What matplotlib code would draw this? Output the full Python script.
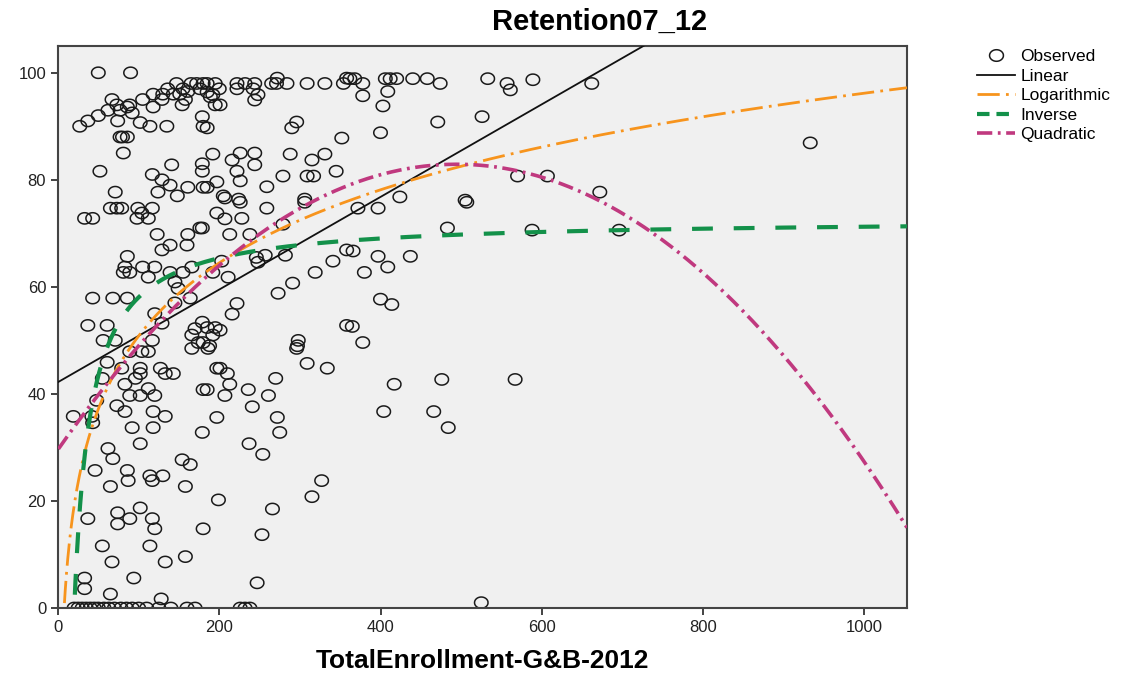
import numpy as np
import matplotlib
matplotlib.use('Agg')
import matplotlib.pyplot as plt
from matplotlib.lines import Line2D

# observed points (enrollment, retention)
enroll = [
    50, 90, 147, 172, 136, 143, 151, 161, 158, 176, 67, 73, 86, 89, 62, 50, 37, 27, 77, 92,
    74, 102, 114, 135, 105, 118, 118, 129, 154, 179, 180, 77, 80, 86, 81, 52, 141, 179, 179, 117,
    129, 139, 161, 180, 124, 148, 71,
    180, 195, 222, 232, 244, 265, 271, 284, 309, 331, 354, 272, 358, 185, 192, 189, 195, 201, 248, 244,
    222, 242, 185, 296, 290, 352, 192, 226, 244, 216, 244, 288, 315, 331, 222, 279, 309, 317, 345,
    197, 185, 226, 259, 205, 224, 306,
    362, 368, 406, 412, 420, 440, 458, 533, 378, 474, 378, 409, 403, 471, 526, 400, 424, 505,
    65, 73, 79, 99, 104, 117, 33, 43, 98, 112, 123, 139, 129, 160, 161, 176, 86, 83, 81, 89,
    105, 120, 112, 139, 155, 166, 145, 149, 43, 68, 86, 145, 164, 120, 129, 37, 61, 56, 71, 117,
    166, 170, 174, 179,
    207, 226, 197, 207, 228, 259, 306, 179, 213, 238, 279, 203, 246, 248, 257, 282, 192, 211, 358, 341,
    319, 291, 273, 222, 216, 185, 195, 201, 192, 180, 188, 298, 297, 358,
    372, 397, 507, 483, 366, 397, 437, 409, 380, 400, 414, 365, 378,
    89, 104, 112, 166, 61, 79, 102, 102, 127, 133, 143, 96, 55, 83, 112, 89, 102, 120, 180, 48,
    73, 83, 19, 42, 43, 118, 133, 92, 118, 179, 102, 62, 68, 154, 164, 46, 86, 87, 114, 117,
    130, 65, 158,
    186, 296, 197, 201, 210, 213, 185, 207, 236, 261, 270, 309, 334, 241, 197, 272, 275, 237, 254, 327,
    315, 199,
    417, 476, 404, 466, 484, 525,
    37, 74, 74, 89, 102, 117, 120, 55, 114, 67, 133, 158, 33, 33, 94, 65, 128, 180,
    20, 25, 30, 35, 40, 45, 50, 57, 63, 70, 78, 85, 92, 100, 110, 125, 140, 160, 170,
    266, 253, 247, 226, 232, 238,
    557, 561, 589, 662, 933, 570, 607, 672, 588, 696, 567,
    165, 185, 155, 130, 200,
]
retention = [
    100, 100, 98, 98, 97, 96, 96, 96.5, 95, 97, 95, 94, 93.6, 94, 93, 92, 91, 90, 93, 92.5,
    91, 90.7, 90, 90, 95, 96, 93.6, 95, 94, 91.8, 90, 88, 88, 88, 85, 81.6, 82.8, 83, 81.6, 81,
    80, 79, 78.6, 78.6, 77.7, 77, 77.7,
    98, 98, 98, 98, 98, 98, 98, 98, 98, 98, 98, 99, 99, 96.4, 95.9, 95.5, 94, 94, 95.9, 94.9,
    97, 97, 89.7, 90.8, 89.7, 87.8, 84.8, 85, 85, 83.7, 82.8, 84.8, 83.7, 84.8, 81.6, 80.7, 80.7, 80.7, 81.6,
    79.6, 78.6, 79.8, 78.7, 77, 76.4, 76.4,
    98.9, 98.9, 98.9, 98.9, 98.9, 98.9, 98.9, 98.9, 98, 98, 95.7, 96.5, 93.8, 90.8, 91.8, 88.8, 76.8, 76.2,
    74.7, 74.7, 74.7, 74.7, 73.8, 74.7, 72.8, 72.8, 72.8, 72.8, 69.8, 67.8, 66.9, 67.8, 69.8, 71, 65.7, 63.7, 62.7, 62.7,
    63.7, 63.7, 61.8, 62.7, 62.7, 63.7, 60.9, 59.7, 57.9, 57.9, 57.9, 57, 57.9, 55, 53.2, 52.8, 52.8, 50, 50, 50,
    51, 52.2, 49.6, 53.4,
    76.6, 75.8, 73.8, 72.7, 72.8, 74.7, 75.8, 71, 69.8, 69.8, 71.7, 64.8, 65.5, 64.6, 65.9, 65.9, 62.7, 61.8, 66.9, 64.8,
    62.7, 60.7, 58.8, 56.9, 54.9, 52.4, 52.4, 51.9, 51, 49.6, 49, 50, 49, 52.8,
    74.7, 74.7, 75.8, 71, 66.7, 65.7, 65.7, 63.7, 62.7, 57.7, 56.7, 52.6, 49.6,
    47.9, 47.9, 47.9, 48.5, 45.9, 44.8, 44.8, 43.8, 44.8, 43.8, 43.8, 42.9, 42.9, 41.8, 41, 39.7, 39.7, 39.7, 40.8, 38.8,
    37.8, 36.7, 35.8, 35.8, 34.6, 36.7, 35.8, 33.7, 33.7, 32.8, 30.7, 29.8, 27.9, 27.7, 26.8, 25.7, 25.7, 23.8, 24.7, 23.8,
    24.7, 22.7, 22.7,
    48.5, 48.5, 44.8, 44.8, 43.8, 41.8, 40.8, 39.7, 40.8, 39.7, 42.9, 45.7, 44.8, 37.6, 35.6, 35.6, 32.8, 30.7, 28.7, 23.8,
    20.8, 20.2,
    41.8, 42.7, 36.7, 36.7, 33.7, 1,
    16.7, 17.8, 15.7, 16.7, 18.7, 16.7, 14.8, 11.6, 11.6, 8.6, 8.6, 9.6, 5.6, 3.6, 5.6, 2.6, 1.7, 14.8,
    0, 0, 0, 0, 0, 0, 0, 0, 0, 0, 0, 0, 0, 0, 0, 0, 0, 0, 0,
    18.5, 13.7, 4.7, 0, 0, 0,
    98, 96.8, 98.7, 98, 86.9, 80.7, 80.7, 77.7, 70.6, 70.6, 42.7,
    98, 98, 97, 96, 97,
]

# fitted model coefficients
lin_coef = [42.2, 0.0865]              # b0 + b1*x
log_coef = [-39.9, 19.7]               # b0 + b1*ln(x)
inv_coef = [72.7, -1465.0]             # b0 + b1/x
quad_coef = [29.6, 0.2155, -0.0002178]  # b0 + b1*x + b2*x^2

x_max = 1053
y_max = 105

plt.rcParams['font.family'] = ['Liberation Sans', 'DejaVu Sans']
plt.rcParams['lines.scale_dashes'] = False

# slightly wide open ellipse, like the stretched circles of the original
t = np.linspace(0, 2 * np.pi, 41)
ellipse = np.column_stack([0.6 * np.cos(t), 0.5 * np.sin(t)])

fig = plt.figure(figsize=(11.27, 6.77), dpi=100)
ax = fig.add_axes([58 / 1127, 69 / 677, 849 / 1127, 562 / 677])
ax.set_facecolor('#f0f0f0')

ax.scatter(enroll, retention, s=95, marker=ellipse, facecolors='none', edgecolors='#1a1a1a',
           linewidths=1.1, zorder=2)

xs = np.linspace(0.5, x_max, 2000)
y_lin = lin_coef[0] + lin_coef[1] * xs
y_log = log_coef[0] + log_coef[1] * np.log(xs)
y_inv = inv_coef[0] + inv_coef[1] / xs
y_quad = quad_coef[0] + quad_coef[1] * xs + quad_coef[2] * xs ** 2

c_log = '#f7941d'
c_inv = '#13914a'
c_quad = '#c0397f'

ax.plot(xs, y_lin, color='#111111', lw=1.3, zorder=3)
ax.plot(xs, y_log, color=c_log, lw=2.0, dashes=(16, 4.5, 2, 4.5), zorder=3)
ax.plot(xs, y_inv, color=c_inv, lw=3.0, dashes=(15, 15), zorder=3)
ax.plot(xs, y_quad, color=c_quad, lw=2.6, dashes=(11, 4, 2, 4), zorder=3)

ax.set_xlim(0, x_max)
ax.set_ylim(0, y_max)
ax.set_xticks([0, 200, 400, 600, 800, 1000])
ax.set_yticks([0, 20, 40, 60, 80, 100])
ax.tick_params(labelsize=12, length=5, width=1.2, colors='#222222')
for sp in ax.spines.values():
    sp.set_color('#444444')
    sp.set_linewidth(1.5)

ax.set_xlabel('TotalEnrollment-G&B-2012', fontsize=19, fontweight='bold', labelpad=10)
fig.text(0.532, 0.968, 'Retention07_12', fontsize=21, fontweight='bold', ha='center', va='center')

handles = [
    Line2D([], [], ls='none', marker=ellipse, markersize=10, markerfacecolor='none',
           markeredgecolor='#1a1a1a', markeredgewidth=1.1),
    Line2D([], [], color='#111111', lw=1.3),
    Line2D([], [], color=c_log, lw=2.0, dashes=(16, 4.5, 2, 4.5)),
    Line2D([], [], color=c_inv, lw=3.0, dashes=(9, 5)),
    Line2D([], [], color=c_quad, lw=2.6, dashes=(11, 4, 2, 4)),
]
labels = ['Observed', 'Linear', 'Logarithmic', 'Inverse', 'Quadratic']
fig.legend(handles, labels, loc='upper left', bbox_to_anchor=(970 / 1127, 1 - 42 / 677),
           frameon=False, fontsize=12.5, handlelength=2.2, handletextpad=0.3,
           labelspacing=0.25, borderaxespad=0)

fig.savefig('out.png', dpi=100)
